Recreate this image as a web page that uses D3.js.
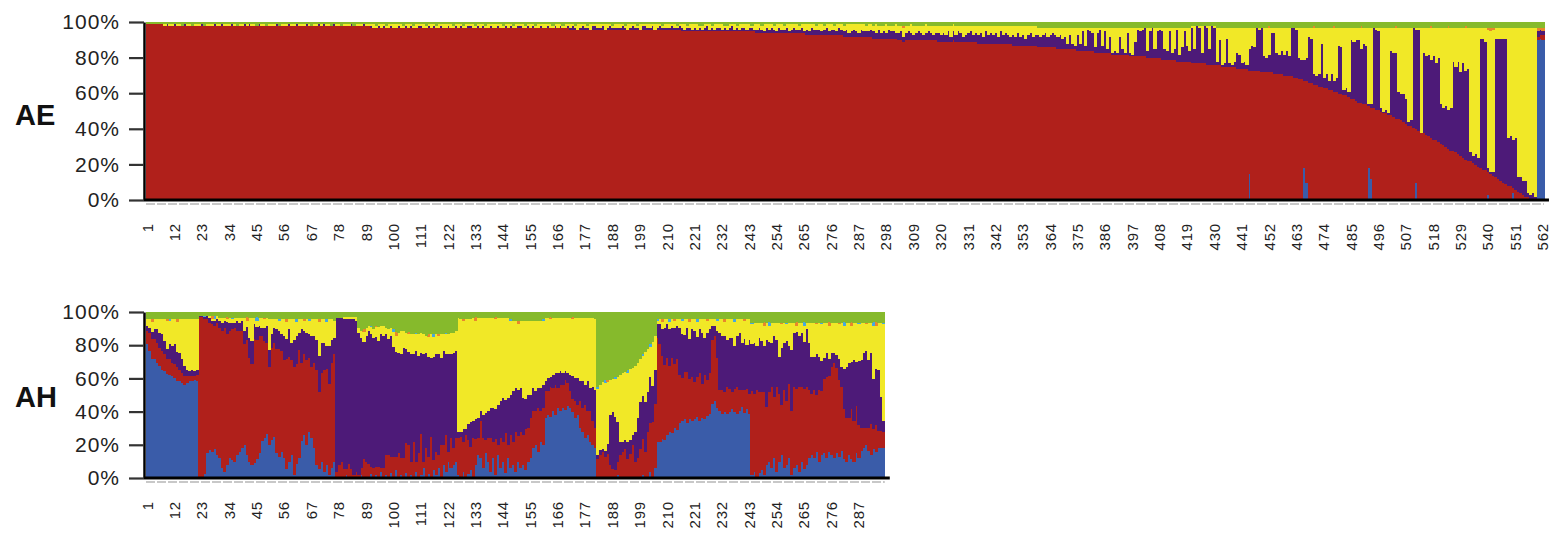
<!DOCTYPE html>
<html><head><meta charset="utf-8">
<script src="https://cdn.jsdelivr.net/npm/d3@7"></script>
<style>
html,body{margin:0;padding:0;background:#fff;}
svg{display:block;}
text{font-family:"Liberation Sans",Arial,Helvetica,sans-serif;}
</style></head><body>
<svg id="chart" width="1566" height="536"></svg>
<script>
// ---------------- data ----------------
const compKeys = ["blue","red","purple","yellow","cyan","orange","green"];
const compColors = {blue:"#3a5ca9", red:"#b0201b", purple:"#4d1a78", yellow:"#f1e827", cyan:"#47a9dd", orange:"#e8872b", green:"#86ba2c"};
const yTicks = [0,0.2,0.4,0.6,0.8,1];
const aeTicks = [1,12,23,34,45,56,67,78,89,100,111,122,133,144,155,166,177,188,199,210,221,232,243,254,265,276,287,298,309,320,331,342,353,364,375,386,397,408,419,430,441,452,463,474,485,496,507,518,529,540,551,562];
const ahTicks = [1,12,23,34,45,56,67,78,89,100,111,122,133,144,155,166,177,188,199,210,221,232,243,254,265,276,287];

// AE (562 individuals)
const aeBlue = [
0,0,0,0,0,0,0,0,0,0, 0,0,0,0,0,0,0,0,0,0, 0,0,0,0,0,0,0,0,0,0, 0,0,0,0,0,0,0,0,0,0,
0,0,0,0,0,0,0,0,0,0, 0,0,0,0,0,0,0,0,0,0, 0,0,0,0,0,0,0,0,0,0, 0,0,0,0,0,0,0,0,0,0,
0,0,0,0,0,0,0,0,0,0, 0,0,0,0,0,0,0,0,0,0, 0,0,0,0,0,0,0,0,0,0, 0,0,0,0,0,0,0,0,0,0,
0,0,0,0,0,0,0,0,0,0, 0,0,0,0,0,0,0,0,0,0, 0,0,0,0,0,0,0,0,0,0, 0,0,0,0,0,0,0,0,0,0,
0,0,0,0,0,0,0,0,0,0, 0,0,0,0,0,0,0,0,0,0, 0,0,0,0,0,0,0,0,0,0, 0,0,0,0,0,0,0,0,0,0,
0,0,0,0,0,0,0,0,0,0, 0,0,0,0,0,0,0,0,0,0, 0,0,0,0,0,0,0,0,0,0, 0,0,0,0,0,0,0,0,0,0,
0,0,0,0,0,0,0,0,0,0, 0,0,0,0,0,0,0,0,0,0, 0,0,0,0,0,0,0,0,0,0, 0,0,0,0,0,0,0,0,0,0,
0,0,0,0,0,0,0,0,0,0, 0,0,0,0,0,0,0,0,0,0, 0,0,0,0,0,0,0,0,0,0, 0,0,0,0,0,0,0,0,0,0,
0,0,0,0,0,0,0,0,0,0, 0,0,0,0,0,0,0,0,0,0, 0,0,0,0,0,0,0,0,0,0, 0,0,0,0,0,0,0,0,0,0,
0,0,0,0,0,0,0,0,0,0, 0,0,0,0,0,0,0,0,0,0, 0,0,0,0,0,0,0,0,0,0, 0,0,0,0,0,0,0,0,0,0,
0,0,0,0,0,0,0,0,0,0, 0,0,0,0,0,0,0,0,0,0, 0,0,0,0,0,0,0,0,0,0, 0,0,0,0,0,0,0,0,0,0,
0,0,0,15,0,0,0,0,0,0, 0,0,0,0,0,0,0,0,0,0, 0,0,0,0,0,18,10,0,0,0, 0,0,0,0,0,0,0,0,0,0,
0,0,0,0,0,0,0,0,0,0, 0,18,12,0,0,0,0,0,0,0, 0,0,0,0,0,0,0,0,0,0, 10,0,0,0,0,0,0,0,0,0,
0,0,0,0,0,0,0,0,0,0, 0,0,0,0,0,0,0,0,0,3, 0,0,0,0,0,0,0,0,0,4, 0,0,0,0,0,0,0,0,0,90,
91,90];
const aeRed = [
99,99,99,99,99,99,99,98,98,98,
98,98,98,98,98,98,98,98,98,98, 98,98,98,98,98,98,98,98,98,98, 98,98,98,98,98,98,98,98,98,98, 98,98,98,98,98,98,98,98,98,98,
98,98,98,98,98,98,98,98,98,98, 98,98,98,98,98,98,98,98,98,98, 98,98,98,98,98,98,98,98,98,98, 98,98,98,98,98,98,98,98,98,98,
97,97,97,97,97,97,97,97,97,97, 97,97,97,97,97,97,97,97,97,97, 97,97,97,97,97,97,97,97,97,97, 97,97,97,97,97,97,97,97,97,97,
97,97,97,97,97,97,97,97,97,97, 97,97,97,97,97,97,97,97,97,97, 97,97,97,97,97,97,97,97,97,97, 97,97,97,97,97,97,97,97,97,97,
96,96,96,96,96,96,96,96,96,96, 96,96,96,96,96,96,96,96,96,96, 96,96,96,96,96,96,96,96,96,96, 96,96,96,96,96,96,96,96,96,96,
96,96,96,96,96,95,95,95,95,95,
95,95,95,95,95,95,95,95,95,95, 95,95,95,95,95,95,95,95,95,95,
95,95,95,95,95,94,94,94,94,94,
94,94,94,94,94,94,94,94,94,94,
94,94,94,94,94,93,93,93,93,93,
93,93,93,93,93,93,93,93,93,93,
92,92,92,92,92,92,92,92,92,92,
92,92,91,91,91,91,91,91,91,91,
91,91,90,90,90,90,90,90,90,90,
90,90,90,90,90,90,90,90,89,89,
89,89,89,89,89,89,89,89,89,89,
89,89,89,89,88,88,88,88,88,88,
88,88,88,88,88,88,88,88,87,87,
87,87,87,87,87,87,87,87,86,86,
86,86,86,86,86,86,85,85,85,85,
85,85,85,85,84,84,84,84,84,84,
84,83,83,83,83,83,83,83,82,82,
82,82,82,82,82,81,81,81,81,81,
81,81,80,80,80,80,80,80,79,79,
79,79,79,79,78,78,78,78,78,78,
77,77,77,77,77,77,76,76,76,76,
76,76,75,75,75,75,75,75,74,74,
74,74,74,58,73,73,73,73,72,72,
72,72,72,71,71,71,71,70,70,70,
70,69,69,68,68,49,57,66,66,65,
65,64,64,63,63,62,62,61,61,60,
60,59,59,58,57,57,56,55,55,54,
54,35,40,52,51,51,50,49,49,48,
48,47,46,46,45,44,43,42,42,41,
30,39,38,38,37,36,35,34,34,33,
32,31,30,29,28,28,27,26,25,24,
23,22,22,21,20,19,18,17,17,13,
15,14,13,12,11,10,9,8,8,3,
6,5,4,3,2,2,1,1,0,2,
2,3];
const aePurple = [
0,0,0,0,0,0,0,0,1,0,
0,1,0,0,0,1,0,0,0,0, 0,0,1,0,0,0,0,1,0,0, 1,0,0,0,1,0,0,0,0,1,
0,1,0,0,0,1,0,0,0,0, 0,0,1,0,0,0,0,1,0,0, 1,0,0,0,1,0,0,0,0,1,
0,1,0,0,0,1,0,0,0,0, 0,0,1,0,0,0,0,1,0,0,
1,0,0,1,0,1,0,0,1,0, 0,1,0,0,1,0,1,0,0,1, 1,0,0,1,0,1,0,0,1,0, 0,1,0,0,1,0,1,0,0,1,
1,0,0,1,0,1,0,0,1,0, 0,1,0,0,1,0,1,0,0,1, 1,0,0,1,0,1,0,0,1,0, 0,1,0,0,1,0,1,0,0,1,
1,2,1,0,1,2,1,1,0,2, 2,1,1,2,0,1,2,1,1,1, 1,2,1,0,1,2,1,1,0,2, 2,1,1,2,0,1,2,1,1,1,
1,2,1,1,2,2,1,2,2,1,
2,1,2,1,2,3,1,2,1,2, 2,1,2,1,2,3,1,2,1,2,
2,1,2,2,1,2,3,2,1,3,
2,3,2,1,3,2,2,3,1,2,
3,2,2,3,1,3,2,4,3,3,
3,2,3,4,2,3,3,2,4,3,
3,4,2,3,4,3,2,4,3,3,
3,4,4,3,5,3,4,3,5,4,
4,3,4,5,3,4,5,4,3,4,
5,4,3,4,5,4,3,4,5,4,
5,4,6,3,5,4,6,5,3,4,
5,6,4,5,5,6,4,7,5,6,
5,6,4,7,5,6,5,4,6,5,
7,5,6,4,6,7,5,6,7,6,
7,8,6,7,8,7,7,8,6,7,
3,8,3,2,9,4,11,3,12,11,
10,3,11,13,4,12,2,9,1,2,
1,10,3,1,12,2,1,8,15,14,
15,16,4,15,17,5,15,16,16,6,
5,16,4,6,18,4,8,17,9,6,
20,8,21,20,6,21,21,9,22,21,
2,14,1,2,16,2,1,3,9,8,
3,4,2,12,14,13,24,23,25,9,
8,10,22,23,12,11,13,12,14,11,
27,28,27,12,11,12,13,26,25,6,
5,7,24,6,8,5,9,6,8,27,
26,3,4,3,33,32,34,35,30,34,
33,1,2,45,45,44,2,1,2,1,
36,36,37,15,15,16,14,2,3,56,
56,57,0,45,44,46,44,47,43,47,
22,21,23,22,24,50,48,52,47,53,
50,52,5,4,6,5,73,74,72,2,
1,2,78,79,80,81,82,27,28,27,
29,8,9,8,9,2,2,3,2,3,
3,2];
const aeYellow = [
0,0,0,0,0,0,0,1,0,1,
1,0,1,1,0,0,1,1,0,1, 1,1,0,0,1,1,1,0,1,1, 0,1,1,1,0,1,0,1,1,0,
1,0,1,1,0,0,1,1,0,1, 1,1,0,0,1,1,1,0,1,1, 0,1,1,1,0,1,0,1,1,0,
1,0,1,1,0,0,1,1,0,1, 1,1,0,0,1,1,1,0,1,1,
1,2,1,1,2,1,1,2,1,2, 2,1,2,1,1,2,1,1,2,1, 1,2,1,1,2,1,1,2,1,2, 2,1,2,1,1,2,1,1,2,1,
1,2,1,1,2,1,1,2,1,2, 2,1,2,1,1,2,1,1,2,1, 1,2,1,1,2,1,1,2,1,2, 2,1,2,1,1,2,1,1,2,1,
2,1,1,3,2,1,2,1,3,1, 1,2,2,1,3,2,1,1,2,2, 2,1,1,3,2,1,2,1,3,1, 1,2,2,1,3,2,1,1,2,2,
2,1,2,1,1,2,3,1,2,3,
2,3,1,2,2,1,3,1,3,2, 2,3,1,2,2,1,3,1,3,2,
2,3,2,1,3,3,2,2,4,2,
3,2,2,4,2,3,2,2,4,3,
2,3,2,2,4,3,4,2,3,2,
3,4,2,2,4,3,2,4,2,3,
3,3,5,4,3,4,5,3,4,3,
4,3,3,5,2,4,3,5,2,3,
3,5,4,3,5,4,3,5,5,4,
3,4,5,5,3,4,5,4,4,5,
4,5,3,6,4,5,3,4,6,5,
4,3,5,4,5,4,6,3,5,4,
5,4,6,3,5,4,5,6,5,6,
4,6,5,7,5,4,6,5,4,5,
4,3,5,4,3,4,5,4,6,5,
9,4,9,10,4,9,2,10,1,2,
3,11,3,1,10,2,12,5,14,13,
14,5,12,14,3,14,15,8,1,2,
1,0,13,2,0,12,2,1,2,12,
13,2,14,12,1,15,11,2,10,13,
1,13,0,1,15,0,1,13,0,1,
19,7,21,20,6,20,21,19,14,15,
20,19,21,12,10,11,0,1,0,16,
17,15,3,3,14,15,13,15,13,16,
0,0,1,17,18,18,17,5,6,26,
27,26,9,28,26,30,26,30,28,10,
11,35,34,36,7,8,7,7,12,9,
10,43,43,0,1,2,45,47,46,48,
13,14,14,36,37,37,40,53,52,0,
1,1,59,14,16,15,18,16,20,17,
43,45,44,46,45,19,22,19,25,20,
24,23,70,72,71,73,6,6,8,78,
79,80,6,6,6,6,6,62,61,63,
62,84,84,86,86,93,94,93,95,0,
0,0];
const aeOrange = [
0,0,0,0,0,0,0,0,0,0, 0,0,0,0,0,0,0,0,0,0, 0,0,0,0,0,0,0,0,0,0, 0,0,0,0,0,0,0,0,0,0,
0,0,0,0,0,0,0,0,0,0, 0,0,0,0,0,0,0,0,0,0, 0,0,0,0,0,0,0,0,0,0, 0,0,0,0,0,0,0,0,0,0,
0,0,0,0,0,0,0,0,0,0, 0,0,0,0,0,0,0,0,0,0, 0,0,0,0,0,0,0,0,0,0, 0,0,0,0,0,0,0,0,0,0,
0,0,0,0,0,0,0,0,0,0, 0,0,0,0,0,0,0,0,0,0, 0,0,0,0,0,0,0,0,0,0, 0,0,0,0,0,0,0,0,0,0,
0,0,0,0,0,0,0,0,0,0, 0,0,0,0,0,0,0,0,0,0, 0,0,0,0,0,0,0,0,0,0, 0,0,0,0,0,0,0,0,0,0,
0,0,0,0,0,0,0,0,0,0, 0,0,0,0,0,0,0,0,0,0, 0,0,0,0,0,0,0,0,0,0, 0,0,0,0,0,0,0,0,0,0,
0,0,0,0,0,0,0,0,0,0, 0,0,0,0,0,0,0,0,0,0, 0,0,0,0,0,0,0,0,0,0, 0,0,0,0,0,0,0,0,0,0,
0,0,0,0,0,0,0,0,0,0, 0,0,0,0,0,0,0,0,0,0, 0,0,0,0,1,0,0,0,0,0, 0,0,0,0,0,0,0,0,0,0,
0,0,0,0,0,0,0,0,0,0, 0,0,0,0,0,0,0,0,0,0, 0,0,0,0,0,0,0,0,0,0, 0,0,0,0,0,0,0,0,0,0,
0,0,0,0,0,0,0,0,0,0, 0,0,0,0,0,0,0,0,0,0, 0,0,0,0,0,0,0,0,0,0, 0,0,0,0,0,0,0,0,0,0,
0,0,0,0,0,0,0,0,0,0, 0,0,0,0,0,0,0,0,0,0, 0,0,0,0,0,0,0,0,0,0, 0,0,0,0,0,0,0,0,0,0,
0,0,0,0,0,0,0,0,0,0, 0,1,0,0,0,0,0,0,0,0, 0,0,0,0,0,0,0,0,0,1, 0,0,0,0,0,0,0,1,0,0,
0,0,0,0,0,0,0,0,1,0, 0,0,0,0,0,0,0,0,0,0, 0,0,1,0,0,0,0,0,0,0, 0,0,0,0,0,0,1,0,0,0,
0,0,0,1,0,0,0,0,0,0, 1,0,0,0,0,0,0,0,0,1, 2,1,0,0,0,0,0,0,0,0, 0,0,0,0,0,0,0,0,0,2,
1,2];
const aeGreen = [
1,1,1,1,1,1,1,1,1,1,
1,1,1,1,2,1,1,1,2,1, 1,1,1,2,1,1,1,1,1,1, 1,1,1,1,1,1,2,1,1,1,
1,1,1,1,2,1,1,1,2,1, 1,1,1,2,1,1,1,1,1,1, 1,1,1,1,1,1,2,1,1,1,
1,1,1,1,2,1,1,1,2,1, 1,1,1,2,1,1,1,1,1,1,
1,1,2,1,1,1,2,1,1,1, 1,1,1,2,1,1,1,2,1,1, 1,1,2,1,1,1,2,1,1,1, 1,1,1,2,1,1,1,2,1,1,
1,1,2,1,1,1,2,1,1,1, 1,1,1,2,1,1,1,2,1,1, 1,1,2,1,1,1,2,1,1,1, 1,1,1,2,1,1,1,2,1,1,
1,1,2,1,1,1,1,2,1,1, 1,1,1,1,1,1,1,2,1,1, 1,1,2,1,1,1,1,2,1,1, 1,1,1,1,1,1,1,2,1,1,
1,1,1,2,1,1,1,2,1,1,
1,1,2,2,1,1,1,2,1,1, 1,1,2,2,1,1,1,2,1,1,
1,1,1,2,1,1,1,2,1,1,
1,1,2,1,1,1,2,1,1,1,
1,1,2,1,1,1,1,1,1,2,
1,1,2,1,1,1,2,1,1,1,
2,1,1,1,1,1,1,1,1,2,
1,1,2,1,2,2,2,1,2,2,
2,1,2,2,2,2,2,1,2,2,
2,2,2,1,2,2,2,2,2,2,
2,2,2,2,1,2,2,2,2,2,
2,2,2,2,2,2,2,2,2,2,
2,2,2,2,2,2,2,2,2,2,
2,2,2,2,2,2,2,2,3,3,
3,3,3,3,3,3,3,3,3,3,
3,3,3,3,3,3,3,3,3,3,
3,3,3,3,3,3,3,3,3,3,
3,3,3,3,3,3,3,3,3,3,
3,3,3,3,3,3,3,3,3,3,
3,3,3,3,3,3,3,3,3,3,
2,2,2,2,2,2,2,2,2,2,
3,3,3,3,3,3,3,3,3,3,
3,3,3,3,3,3,3,3,3,3,
3,2,3,3,3,3,3,3,3,3,
3,3,3,3,3,3,3,3,3,2,
3,3,3,3,3,3,3,2,3,3,
3,3,3,3,3,3,3,3,2,3,
3,3,3,3,3,3,3,3,3,3,
3,3,2,3,3,3,3,3,3,3,
3,3,3,3,3,3,2,3,3,3,
3,3,3,2,3,3,3,3,3,3,
2,3,3,3,3,3,3,3,3,3,
3,3,3,3,3,3,3,3,3,3,
3,3,3,3,3,3,3,3,3,3,
3,3];

// AH (297 individuals)
const ahBlue = [
80,76,73,71,69,67,65,64,63,62,
61,60,59,58,57,56,57,58,58,59,58,
1,0,3,15,17,16,18,14,12,
6,4,8,12,11,10,14,16,18,20,
14,10,8,9,12,15,22,24,26,20,
23,25,15,13,16,12,6,10,14,2,
9,12,22,26,20,28,24,18,8,6,
10,4,8,2,6,10,
1,0,0,0,2,0,1,0,1,
0,2,0,0,1,3,0,2,0,4,
0,2,0,3,0,5,0,2,0,3,
0,2,0,4,0,2,6,0,3,0,
5,2,6,0,8,4,10,6,8,10,
2,0,4,0,3,5,0,8,14,12,
6,15,10,4,12,2,14,6,10,3,12,
6,8,4,10,6,8,5,10,12,
18,20,16,22,20,
36,38,37,40,38,42,40,42,41,43,
42,40,36,38,30,28,24,26,22,20,18,
0,0,0,0,0,0,0,0,2,
0,0,0,0,0,0,0,0,0,
2,0,0,4,0,6,
22,22,24,23,26,28,27,30,29,
33,34,35,33,36,34,35,37,34,36,35,37,38,
44,46,42,
40,38,40,38,39,41,40,38,40,42,39,41,38,
2,4,0,3,5,2,8,10,6,12,4,10,14,6,8,12,2,
6,8,4,10,6,8,12,
14,12,16,10,14,15,12,16,14,12,15,13,16,
12,10,14,12,10,15,12,
16,18,20,16,14,18,16,18,18,18];
const ahRed = [
8,11,12,12,12,11,11,10,9,9,
8,8,8,7,6,5,4,3,3,2,4,
96,97,93,80,76,78,75,79,78,
82,86,80,76,78,80,74,72,70,60,
70,62,60,74,72,70,62,58,54,46,
55,56,62,64,60,58,66,62,56,64,
60,64,46,48,50,44,42,50,56,46,
52,60,58,54,62,64,
3,8,10,6,4,9,5,2,3,
2,4,12,10,8,4,6,5,7,2,
6,12,14,10,13,8,15,10,12,18,
20,8,22,6,15,24,4,18,10,25,
6,14,8,20,12,22,6,18,10,14,
22,25,18,26,20,14,24,16,10,22,
18,8,14,20,10,22,6,18,12,24,8,
20,14,24,16,22,18,24,20,24,
22,20,26,18,22,
16,14,18,14,18,12,16,14,18,14,
10,8,10,6,16,14,20,14,18,14,12,
12,14,16,13,15,8,6,5,8,
14,16,18,12,15,20,10,12,18,
22,16,28,30,34,38,
62,58,50,44,46,40,44,38,42,
28,26,28,30,24,26,22,24,28,20,26,22,24,
38,38,30,
12,14,12,16,14,10,14,16,12,10,14,12,12,
50,46,52,48,46,50,34,42,48,36,50,40,30,46,38,44,38,
48,46,50,44,48,46,40,
36,40,34,42,38,44,48,46,52,56,50,46,38,
30,26,22,30,24,28,20,
14,12,10,14,18,12,16,10,10,10];
const ahPurple = [
3,3,4,6,8,9,10,8,6,9,
10,12,9,10,8,6,4,3,4,3,3,
1,1,1,2,3,2,3,2,4,
5,4,7,5,4,3,6,5,6,8,
8,12,14,9,8,6,5,8,10,10,
8,9,12,11,10,14,12,16,10,16,
17,10,20,14,16,14,18,16,18,22,
18,16,14,22,14,10,
92,88,86,90,90,87,90,94,91,
85,78,72,75,80,80,78,78,76,80,
78,72,70,72,66,64,60,62,65,56,
56,64,52,66,58,48,64,56,60,47,
62,58,60,52,56,48,58,50,56,52,
4,3,8,4,10,15,10,12,12,6,
14,16,16,18,20,18,24,22,26,20,28,
24,30,26,28,26,22,18,20,14,
14,12,12,14,14,
6,8,6,8,7,9,8,7,5,6,
10,14,14,16,12,16,12,18,14,20,22,
2,3,2,4,6,30,34,32,24,
8,6,5,10,8,6,18,24,28,
26,30,24,28,22,20,
8,12,16,22,20,22,18,22,20,
28,26,22,26,24,28,30,24,26,30,22,28,26,
8,6,16,
34,32,34,28,30,32,26,30,34,28,30,26,32,
28,30,26,32,30,28,40,30,26,36,28,22,34,28,36,22,36,
32,34,30,32,28,34,28,
22,20,24,20,18,12,14,10,8,6,8,12,12,
24,30,32,28,36,26,38,
40,44,46,40,42,30,34,36,20,6];
const ahYellow = [
4,5,6,6,6,8,9,13,17,14,
16,15,18,20,24,28,30,31,30,31,30,
0,0,0,0,1,1,1,2,2,
3,2,2,3,2,3,2,3,2,8,
4,12,14,4,4,5,6,5,5,18,
9,5,6,6,9,10,10,6,14,12,
8,8,6,6,8,8,10,10,12,20,
14,14,14,16,12,10,
0,0,0,1,1,1,1,1,2,
3,4,6,5,3,4,5,6,8,5,
6,4,6,5,9,10,12,14,10,10,
11,12,12,10,13,12,12,10,12,14,
12,12,11,14,10,12,12,13,12,12,
68,68,66,66,63,62,62,60,60,56,
58,57,56,54,54,54,52,50,48,49,48,
44,42,40,40,40,46,46,44,44,
40,42,40,40,38,
38,36,35,34,33,33,32,33,32,33,
34,34,36,36,38,38,40,38,42,41,42,
40,39,40,41,38,21,20,23,27,
40,41,41,42,43,40,40,33,26,
24,30,26,18,26,20,
2,3,4,5,3,4,5,4,4,
5,8,9,5,10,6,7,9,6,8,11,7,6,
4,4,6,
8,10,8,12,11,11,14,10,8,14,11,15,12,
12,12,14,9,11,12,10,10,12,8,10,20,14,12,10,14,16,
6,4,8,6,10,4,12,
20,20,18,20,22,21,18,20,18,18,19,21,26,
26,26,24,22,22,23,22,
22,18,16,22,18,32,26,28,44,58];
const ahCyan = [
0,0,0,0,0,0,0,0,0,1,
0,0,0,0,0,0,0,0,0,0,0,
0,0,1,0,0,0,2,0,0,
0,0,0,0,1,0,0,0,0,0,
0,0,0,0,2,0,0,0,0,0,
0,0,0,1,0,0,0,0,0,0,
2,0,0,0,0,1,0,0,0,0,
0,0,2,0,0,0,
0,0,0,0,0,0,0,0,0,
0,0,0,0,0,1,0,0,0,0,
0,0,0,0,2,0,0,0,0,0,
0,0,0,1,0,0,0,0,0,0,
2,0,0,0,0,1,0,0,0,0,
0,0,0,0,0,0,0,0,0,0,
0,0,0,0,0,0,0,0,0,0,0,
1,0,0,0,0,0,0,0,0,
0,0,0,0,1,
0,0,0,0,0,0,0,0,0,0,
0,0,0,0,0,0,0,0,0,0,0,
1,0,0,2,0,0,0,1,0,
0,0,0,2,0,0,0,0,0,
1,0,0,2,0,0,
1,0,0,0,0,2,0,0,0,
0,1,0,0,0,0,0,2,0,0,0,0,0,
0,0,1,
0,0,0,0,0,0,2,0,0,0,0,0,0,
1,0,0,0,0,0,0,2,0,0,0,0,0,0,1,0,0,
0,0,0,0,2,0,0,
0,0,0,0,1,0,0,0,0,0,0,0,0,
2,0,0,0,0,0,1,
0,0,0,0,0,2,0,0,0,1];
const ahOrange = [
0,0,2,0,0,0,0,0,1,0,
0,0,2,0,0,0,0,0,0,0,0,
0,0,0,0,0,2,0,0,0,
0,0,1,0,0,0,0,0,0,0,
2,0,0,0,0,0,0,1,0,0,
0,0,0,0,0,0,2,0,0,0,
0,0,0,1,0,0,0,0,0,2,
0,0,0,0,0,0,
0,0,0,0,0,0,0,0,0,
0,0,2,0,0,0,0,1,0,0,
0,0,0,0,0,2,0,0,0,0,
1,0,0,0,0,0,0,0,2,0,
0,0,1,0,0,0,0,0,0,0,
0,0,1,0,0,0,0,2,0,0,
0,0,0,0,0,1,0,0,0,0,0,
0,0,0,2,0,0,0,0,0,
0,0,0,0,0,
0,0,1,0,0,0,0,0,0,0,
0,1,0,0,0,0,0,0,0,0,0,
0,0,0,0,1,0,0,0,0,
0,0,0,0,0,0,0,0,0,
0,0,0,0,0,0,
0,0,2,0,0,0,0,1,0,
0,0,0,0,2,0,0,0,0,0,0,1,0,
0,0,0,
0,0,2,0,0,0,0,0,0,0,1,0,0,
0,0,0,0,0,2,0,0,0,0,0,0,1,0,0,0,0,
0,2,0,0,0,0,0,
0,0,1,0,0,0,0,2,0,0,0,1,0,
0,0,0,2,0,0,0,
0,0,1,0,0,0,2,0,0,0];
const ahGreen = [
4,4,4,4,4,4,4,4,4,4,
4,4,4,4,4,4,4,4,4,4,4,
2,2,2,2,2,2,2,2,3,
3,3,3,3,3,3,3,3,3,3,
3,3,3,3,3,3,3,3,3,4,
4,4,4,4,4,4,4,4,4,4,
4,4,4,4,4,4,4,4,4,4,
4,4,4,4,4,5,
3,3,3,3,3,3,3,3,3,
9,11,10,9,8,8,10,8,9,8,
8,9,10,9,10,12,12,11,11,12,
12,13,13,12,13,12,13,14,13,13,
13,13,13,13,13,12,13,12,12,11,
3,4,4,4,4,4,3,3,3,3,
3,3,3,3,3,3,3,3,3,3,3,
4,5,5,5,5,5,5,5,5,
5,5,5,5,4,
3,3,3,3,3,3,3,3,3,3,
3,3,3,3,3,3,3,3,3,3,4,
45,43,42,41,41,40,40,39,39,
37,36,36,35,34,33,32,30,28,
25,24,22,19,18,14,
4,4,4,4,4,4,4,4,4,
4,4,4,4,4,4,4,4,4,4,4,4,4,
4,4,4,
4,4,4,4,4,4,4,4,4,4,4,4,4,
6,6,6,6,6,6,6,6,6,6,6,6,6,6,6,6,6,
6,6,6,6,6,6,6,
6,6,6,6,6,6,6,6,6,6,6,6,6,
6,6,6,6,6,6,6,
6,6,6,6,6,6,6,6,6,6];

// ---------------- drawing ----------------
const svg = d3.select("#chart");
const LEFT = 146, STEP = 2.4875;

function panel(cfg) {
  const n = cfg.series.red.length;
  const keys = compKeys.filter(k => cfg.series[k]);
  keys.forEach(k => { if (cfg.series[k].length !== n) throw new Error(cfg.label + " " + k + " length " + cfg.series[k].length + " vs " + n); });
  const rows = d3.range(n).map(i => { const r = {idx: i + 1}; keys.forEach(k => r[k] = cfg.series[k][i]); return r; });
  const stack = d3.stack().keys(keys).offset(d3.stackOffsetExpand)(rows);
  const x = d3.scaleBand().domain(rows.map(r => r.idx)).range([LEFT, LEFT + n * STEP]).padding(0);
  const y = d3.scaleLinear().domain([0, 1]).range([cfg.bottom, cfg.top]);
  const g = svg.append("g");

  stack.forEach(layer => {
    g.append("g").attr("fill", compColors[layer.key]).attr("shape-rendering", "crispEdges")
      .selectAll("rect").data(layer.filter(d => d[1] - d[0] > 0.0001)).join("rect")
      .attr("x", d => x(d.data.idx))
      .attr("width", x.bandwidth() + 0.6)
      .attr("y", d => y(d[1]))
      .attr("height", d => y(d[0]) - y(d[1]) + 0.5);
  });

  // faint per-individual strip under the axis
  g.append("line").attr("x1", LEFT).attr("x2", LEFT + n * STEP)
    .attr("y1", cfg.bottom + 4).attr("y2", cfg.bottom + 4)
    .attr("stroke", "#c8c8c8").attr("stroke-width", 2).attr("stroke-dasharray", "9,2");

  // bottom axis
  const xa = g.append("g").attr("transform", `translate(0,${cfg.bottom})`)
    .call(d3.axisBottom(x).tickValues(cfg.ticks).tickSize(0).tickSizeOuter(0));
  xa.select(".domain").remove();
  xa.selectAll("text")
    .attr("transform", "rotate(-90)")
    .attr("x", -23).attr("y", 0).attr("dy", "0.36em")
    .style("text-anchor", "end")
    .style("font-size", "15px").style("letter-spacing", "0.8px")
    .attr("fill", "#222");
  g.append("line").attr("x1", LEFT - 2).attr("x2", LEFT + n * STEP + 5)
    .attr("y1", cfg.bottom).attr("y2", cfg.bottom)
    .attr("stroke", "#000").attr("stroke-width", 3);

  // left axis
  const ya = g.append("g").attr("transform", `translate(${LEFT - 2},0)`)
    .call(d3.axisLeft(y).tickValues(yTicks).tickFormat(d3.format(".0%")).tickSize(15).tickSizeOuter(0).tickPadding(9));
  ya.select(".domain").attr("stroke", "#000").attr("stroke-width", 2.5);
  ya.selectAll(".tick line").attr("stroke", "#333").attr("stroke-width", 2.2);
  ya.selectAll("text").style("font-size", "21px").style("letter-spacing", "1px").attr("fill", "#222");

  // panel label
  g.append("text").attr("x", 15).attr("y", cfg.labelY).attr("dy", "0.35em")
    .style("font-size", "29px").style("font-weight", "bold").attr("fill", "#111")
    .text(cfg.label);
}

panel({label: "AE", labelY: 115, top: 22, bottom: 200, ticks: aeTicks,
  series: {blue: aeBlue, red: aeRed, purple: aePurple, yellow: aeYellow, orange: aeOrange, green: aeGreen}});
panel({label: "AH", labelY: 397, top: 312, bottom: 478, ticks: ahTicks,
  series: {blue: ahBlue, red: ahRed, purple: ahPurple, yellow: ahYellow, cyan: ahCyan, orange: ahOrange, green: ahGreen}});
</script>
</body></html>
